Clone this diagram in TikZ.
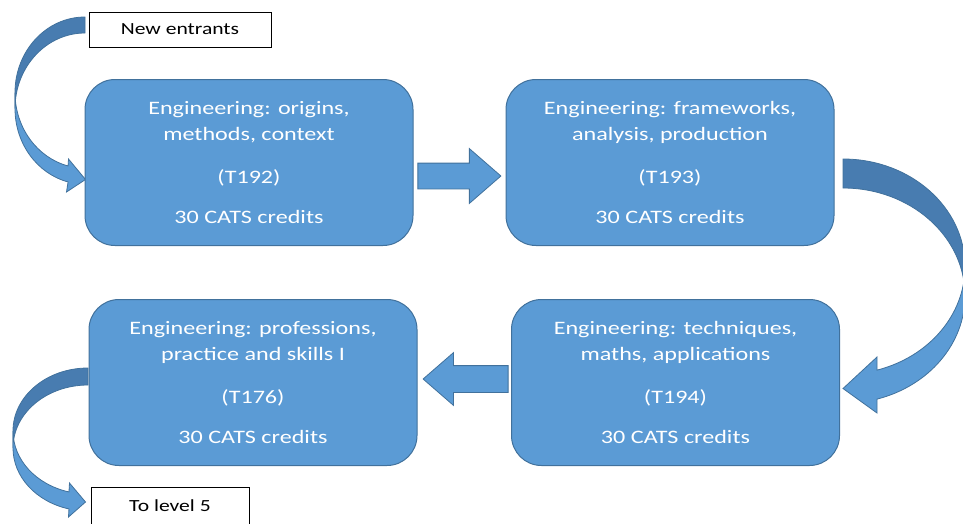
\documentclass[tikz,border=0pt]{standalone}
\usepackage{fontspec}
\setmainfont{Carlito}[FakeStretch=1.27]
\usetikzlibrary{calc,shapes.arrows}

\definecolor{boxfill}{RGB}{91,155,213}
\definecolor{boxedge}{RGB}{65,113,156}
\definecolor{backfill}{RGB}{72,124,176}

\tikzset{
  module/.style={draw=boxedge, line width=1pt, fill=boxfill, rounded corners=30pt,
    minimum width=328pt, minimum height=166pt, inner sep=0pt, text=white,
    align=center, font=\fontsize{19}{26}\selectfont},
  tagbox/.style={draw=black, line width=0.8pt, fill=white, inner sep=0pt,
    font=\fontsize{17}{20}\selectfont},
  flow/.style={single arrow, draw=boxedge, line width=0.8pt, fill=boxfill,
    inner xsep=0pt, single arrow tip angle=82, anchor=tip},
  front/.style={draw=boxedge, line width=0.8pt, fill=boxfill},
  back/.style={draw=boxedge, line width=0.8pt, fill=backfill}
}

\begin{document}
\begin{tikzpicture}[x=1pt, y=-1pt]
  \clip (0,0) rectangle (963,523);

  \draw[back] (85,17) arc[start angle=270, end angle=180, x radius=70, y radius=75.6]
    -- (15,108.6) arc[start angle=180, end angle=270, x radius=70, y radius=75.6] -- cycle;
  \draw[front] (15,92.6) arc[start angle=180, end angle=104, x radius=70, y radius=75.6]
    -- (68.5,159) -- (85.5,179.5) -- (66.5,192) -- (68.07,181.95)
    arc[start angle=104, end angle=180, x radius=70, y radius=75.6] -- cycle;

  \draw[back] (843,159) arc[start angle=270, end angle=360, x radius=122, y radius=107.7]
    -- (965,295.7) arc[start angle=360, end angle=270, x radius=122, y radius=107.7] -- cycle;
  \draw[front] (965,266.7) arc[start angle=0, end angle=73.8, x radius=122, y radius=107.7]
    -- (877,357) -- (843,388.5) -- (877,413) -- (877.04,399.12)
    arc[start angle=73.8, end angle=0, x radius=122, y radius=107.7] -- cycle;

  \draw[back] (88,368) arc[start angle=270, end angle=180, x radius=75, y radius=63]
    -- (13,448) arc[start angle=180, end angle=270, x radius=75, y radius=63] -- cycle;
  \draw[front] (13,431) arc[start angle=180, end angle=104.7, x radius=75, y radius=63]
    -- (69.5,483) -- (85.5,502) -- (68.5,517) -- (68.97,508.94)
    arc[start angle=104.7, end angle=180, x radius=75, y radius=63] -- cycle;

  \node[module] (m192) at (249,162.5) {Engineering: origins,\\methods, context\\[17pt](T192)\\[14pt]30 CATS credits};
  \node[module] (m193) at (670,162.5) {Engineering: frameworks,\\analysis, production\\[17pt](T193)\\[14pt]30 CATS credits};
  \node[module] (m176) at (253,382.5) {Engineering: professions,\\practice and skills I\\[17pt](T176)\\[14pt]30 CATS credits};
  \node[module] (m194) at (675.5,382.5) {Engineering: techniques,\\maths, applications\\[17pt](T194)\\[14pt]30 CATS credits};

  \node[tagbox, minimum width=182pt, minimum height=35pt] (entry) at (180,29.5) {New entrants};
  \node[tagbox, minimum width=158pt, minimum height=37pt] (exit) at (170,505.5) {To level 5};

  \node[flow, inner ysep=12.5pt, minimum height=83pt, single arrow head extend=14.5pt]
    (toT193) at ($(m193.west)+(-4,13.5)$) {};
  \node[flow, shape border rotate=180, inner ysep=13pt, minimum height=85pt,
    single arrow head extend=13pt] (toT176) at ($(m176.east)+(5,-3.5)$) {};
\end{tikzpicture}
\end{document}
